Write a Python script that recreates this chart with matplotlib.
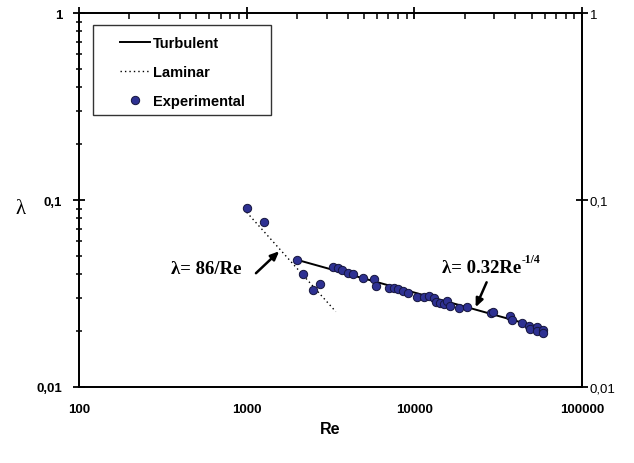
import matplotlib
matplotlib.use("Agg")
import matplotlib.pyplot as plt
from matplotlib.patches import Rectangle
from matplotlib.ticker import FixedLocator, FixedFormatter, LogLocator, NullFormatter
import numpy as np

plt.rcParams['font.family'] = ['Liberation Sans', 'DejaVu Sans']

# Measured friction factors
re_exp = [1000, 1270, 2000, 2160, 2500, 2750, 3280, 3520, 3680, 4040, 4320,
          4960, 5720, 5870, 7090, 7560, 7980, 8590, 9200, 10320, 11410, 12270,
          13090, 13450, 14210, 15020, 15590, 16310, 18530, 20510, 28530, 29320,
          37170, 38040, 43640, 48420, 48870, 53580, 54050, 58210, 58470]
lam_exp = [0.0903, 0.0762, 0.0476, 0.0402, 0.0330, 0.0356, 0.0436, 0.0433,
           0.0423, 0.0407, 0.0402, 0.0383, 0.0378, 0.0347, 0.0338, 0.0337,
           0.0333, 0.0325, 0.0319, 0.0302, 0.0302, 0.0308, 0.0298, 0.0286,
           0.0280, 0.0278, 0.0288, 0.0272, 0.0264, 0.0267, 0.0248, 0.0251,
           0.0241, 0.0228, 0.0220, 0.0213, 0.0204, 0.0209, 0.0200, 0.0202,
           0.0195]

# Correlations: laminar 86/Re, turbulent 0.32 Re^-1/4
lam_coef = 86.0
turb_coef = 0.32
turb_exp = -0.25
re_laminar = [1000, 3400]
re_turbulent = [2000, 60000]

x_ticks = [100, 1000, 10000, 100000]
x_labels = ['100', '1000', '10000', '100000']
y_ticks = [0.01, 0.1, 1]
y_labels = ['0,01', '0,1', '1']

fig = plt.figure(figsize=(6.34, 4.64), dpi=100)
ax = fig.add_axes([0.1246, 0.1638, 0.7934, 0.806])

re_l = np.array(re_laminar, dtype=float)
re_t = np.geomspace(re_turbulent[0], re_turbulent[1], 50)
ax.plot(re_t, turb_coef * re_t ** turb_exp, color='black', lw=1.4, label='Turbulent')
ax.plot(re_l, lam_coef / re_l, color='black', lw=1.0, ls=(0, (1, 2.2)), label='Laminar')
ax.plot(re_exp, lam_exp, 'o', ms=6.0, mfc='#2E3192', mec='#15153d', mew=0.7,
        label='Experimental', zorder=3)

ax.set_xscale('log')
ax.set_yscale('log')
ax.set_xlim(100, 100000)
ax.set_ylim(0.01, 1)

for s in ax.spines.values():
    s.set_linewidth(1.3)

ax.xaxis.set_major_locator(FixedLocator(x_ticks))
ax.xaxis.set_major_formatter(FixedFormatter(x_labels))
ax.xaxis.set_minor_locator(LogLocator(base=10, subs=np.arange(2, 10)))
ax.xaxis.set_minor_formatter(NullFormatter())
ax.yaxis.set_major_locator(FixedLocator(y_ticks))
ax.yaxis.set_major_formatter(FixedFormatter(y_labels))
ax.yaxis.set_minor_locator(LogLocator(base=10, subs=np.arange(2, 10)))
ax.yaxis.set_minor_formatter(NullFormatter())

ax.tick_params(axis='x', which='both', bottom=False, top=True,
               labelbottom=True, labeltop=False)
ax.tick_params(axis='x', which='major', direction='inout', length=8, width=1.3,
               pad=7.5, labelsize=9.5)
ax.tick_params(axis='x', which='minor', direction='in', length=4, width=1.1)
ax.tick_params(axis='y', which='both', left=True, right=False)
ax.tick_params(axis='y', which='major', direction='inout', length=8, width=1.3,
               pad=8, labelsize=9.5)
ax.tick_params(axis='y', which='minor', direction='inout', length=5, width=1.1)
for lab in ax.get_xticklabels() + ax.get_yticklabels():
    lab.set_fontweight('bold')

# Right-hand scale, plain labels
ax2 = ax.twinx()
ax2.set_yscale('log')
ax2.set_ylim(0.01, 1)
ax2.yaxis.set_major_locator(FixedLocator(y_ticks))
ax2.yaxis.set_major_formatter(FixedFormatter(y_labels))
ax2.yaxis.set_minor_locator(FixedLocator([]))
ax2.tick_params(axis='y', which='major', direction='inout', length=8, width=1.3,
                pad=1.5, labelsize=9.5)
for s in ax2.spines.values():
    s.set_linewidth(1.3)

ax.set_xlabel('Re', fontsize=11.5, fontweight='bold', labelpad=4)
ax.set_ylabel('λ', fontsize=15, family='Liberation Serif', rotation=0,
              va='center', ha='center')
ax.yaxis.set_label_coords(-0.117, 0.476)

# Annotations
arrow_kw = dict(arrowstyle='-|>,head_length=0.5,head_width=0.22',
                color='black', lw=1.8, shrinkA=0, shrinkB=0)
serif_kw = dict(fontsize=13.5, fontweight='bold', family='Liberation Serif')

ax.text(937, 0.0428, 'λ= 86/Re', ha='right', va='center', **serif_kw)
ax.annotate('', xy=(1563, 0.0532), xytext=(1136, 0.0406), arrowprops=arrow_kw)

ax.text(43500, 0.0412, 'λ= 0.32Re', ha='right', va='baseline', **serif_kw)
ax.annotate('-1/4', xy=(43500, 0.0412), xytext=(0.5, 7), textcoords='offset points',
            ha='left', va='baseline', fontsize=8.5, fontweight='bold',
            family='Liberation Serif')
ax.annotate('', xy=(23200, 0.0267), xytext=(26980, 0.0363), arrowprops=arrow_kw)

# Legend with a plain rectangular frame
ax.add_patch(Rectangle((0.028, 0.727), 0.354, 0.241, transform=ax.transAxes,
                       fill=False, edgecolor='#333333', lw=1.0, zorder=4))
ax.legend(loc='upper left', bbox_to_anchor=(0.0815, 0.939), frameon=False,
          borderpad=0, borderaxespad=0, handlelength=2.05, handletextpad=0.2,
          labelspacing=1.03, prop={'weight': 'bold', 'size': 10.5})

fig.savefig('out.png', dpi=100, facecolor='white')
